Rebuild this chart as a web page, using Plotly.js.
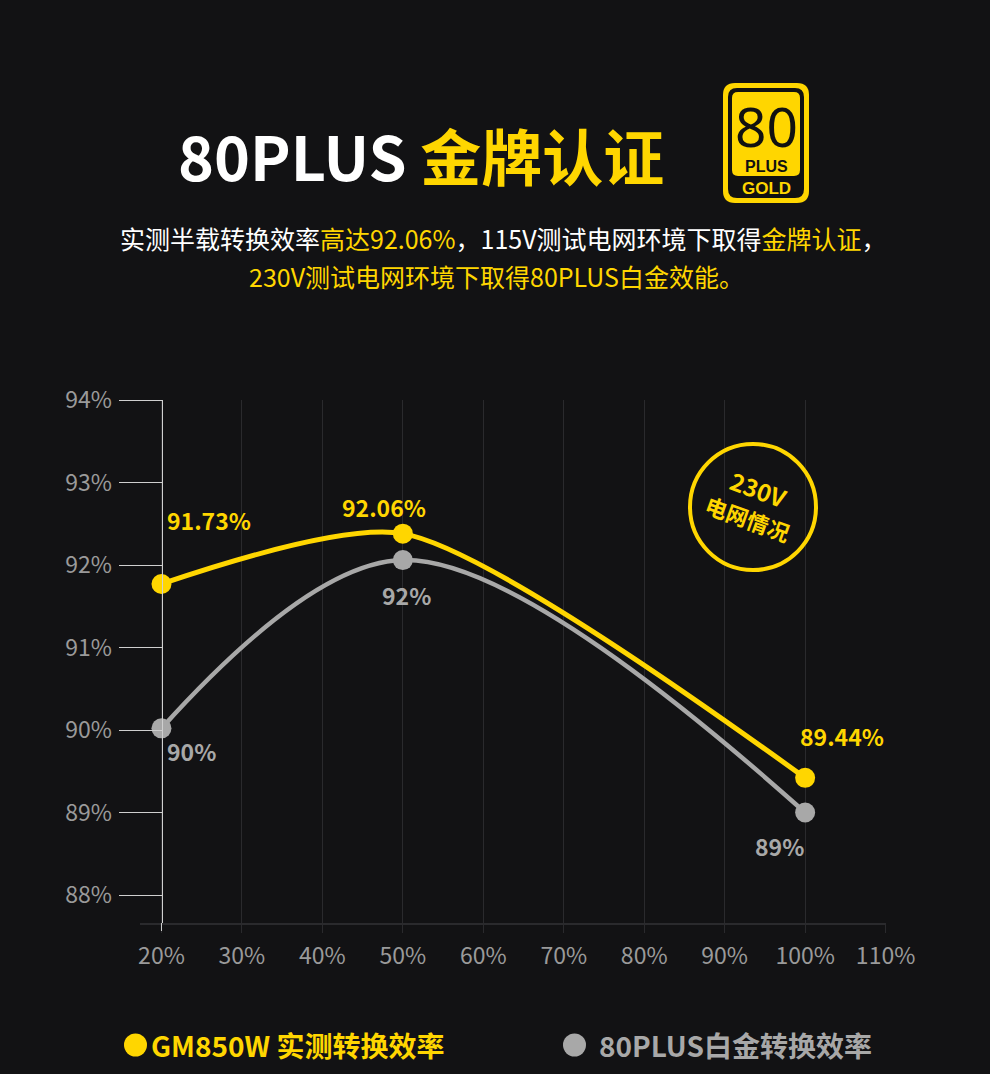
<!DOCTYPE html>
<html>
<head>
<meta charset="utf-8">
<script src="https://cdn.plot.ly/plotly-3.0.1.min.js"></script>
<style>
  html, body { margin: 0; padding: 0; background: #121214; }
  #chart { width: 990px; height: 1074px; }
</style>
</head>
<body>
<div id="chart"></div>
<script>
// ---------- data ----------
const loadLevels = [20, 50, 100];                 // % load
const gm850wEff = [91.77, 92.38, 89.42];          // drawn positions (GM850W measured)
const gm850wLabels = ['91.73%', '92.06%', '89.44%'];
const platinumEff = [90.02, 92.06, 89.0];         // 80PLUS platinum reference
const platinumLabels = ['90%', '92%', '89%'];
const xTickVals = [20, 30, 40, 50, 60, 70, 80, 90, 100, 110];
const xTickText = ['20%', '30%', '40%', '50%', '60%', '70%', '80%', '90%', '100%', '110%'];
const yTickVals = [88, 89, 90, 91, 92, 93, 94];
const yTickText = ['88%', '89%', '90%', '91%', '92%', '93%', '94%'];

// ---------- style ----------
const BG = '#121214';
const YELLOW = '#FFD600';
const GRAY = '#A8A8A8';
const FONT = '"Noto Sans CJK SC", "Noto Sans", sans-serif';

// plot area in pixels
const L = 140, R = 886, T = 400, B = 923, W = 990, H = 1074;
const px = X => (X - L) / (R - L);
const py = Y => (B - Y) / (B - T);

function rr(x0, y0, x1, y1, r) {
  const P = (x, y) => px(x).toFixed(5) + ',' + py(y).toFixed(5);
  return 'M' + P(x0 + r, y0) + ' L' + P(x1 - r, y0) + ' Q' + P(x1, y0) + ' ' + P(x1, y0 + r) +
    ' L' + P(x1, y1 - r) + ' Q' + P(x1, y1) + ' ' + P(x1 - r, y1) +
    ' L' + P(x0 + r, y1) + ' Q' + P(x0, y1) + ' ' + P(x0, y1 - r) +
    ' L' + P(x0, y0 + r) + ' Q' + P(x0, y0) + ' ' + P(x0 + r, y0) + ' Z';
}

const traces = [
  {
    x: loadLevels, y: platinumEff, type: 'scatter', mode: 'lines+markers',
    line: { color: GRAY, width: 4.5, shape: 'spline', smoothing: 1 },
    marker: { color: GRAY, size: 20 }, cliponaxis: false, hoverinfo: 'skip'
  },
  {
    x: loadLevels, y: gm850wEff, type: 'scatter', mode: 'lines+markers',
    line: { color: YELLOW, width: 5, shape: 'spline', smoothing: 0.7 },
    marker: { color: YELLOW, size: 20 }, cliponaxis: false, hoverinfo: 'skip'
  }
];

// label offsets (pixels) relative to each point
const yellowOffsets = [[48, 64], [-19, 27], [37, 42]];
const grayOffsets = [[30, -23], [4, -35], [-26, -33]];

const annotations = [];
loadLevels.forEach((lv, i) => {
  annotations.push({
    x: lv, y: gm850wEff[i], xref: 'x', yref: 'y', text: gm850wLabels[i], showarrow: false,
    xanchor: 'center', yanchor: 'middle',
    xshift: yellowOffsets[i][0], yshift: yellowOffsets[i][1],
    font: { family: FONT, size: 23, color: YELLOW, weight: 'bold' }
  });
  annotations.push({
    x: lv, y: platinumEff[i], xref: 'x', yref: 'y', text: platinumLabels[i], showarrow: false,
    xanchor: 'center', yanchor: 'middle',
    xshift: grayOffsets[i][0], yshift: grayOffsets[i][1],
    font: { family: FONT, size: 23, color: GRAY, weight: 'bold' }
  });
});

function pAnn(X, Y, text, font, extra) {
  return Object.assign({
    xref: 'paper', yref: 'paper', x: px(X), y: py(Y), showarrow: false,
    xanchor: 'center', yanchor: 'middle', text: text, font: font
  }, extra || {});
}

// Title
annotations.push(pAnn(421, 155, '80PLUS <span style="color:' + YELLOW + '">金牌认证</span>',
  { family: FONT, size: 61, color: '#FFFFFF', weight: 'bold' }));
// Subtitle
annotations.push(pAnn(503, 238,
  '实测半载转换效率<span style="color:' + YELLOW + '">高达92.06%</span>，115V测试电网环境下取得<span style="color:' + YELLOW + '">金牌认证</span>，',
  { family: FONT, size: 25, color: '#FFFFFF' }));
annotations.push(pAnn(496, 276, '230V测试电网环境下取得80PLUS白金效能。',
  { family: FONT, size: 25, color: YELLOW }));
// Badge texts
annotations.push(pAnn(766, 125, '80',
  { family: '"Liberation Sans Narrow", "Noto Sans", sans-serif', size: 55, color: '#111111' }));
annotations.push(pAnn(766, 166, 'PLUS',
  { family: '"Liberation Sans", sans-serif', size: 16, color: '#111111', weight: 'bold' }));
annotations.push(pAnn(766, 188, 'GOLD',
  { family: '"Liberation Sans", sans-serif', size: 17, color: YELLOW, weight: 'bold' }));
// 230V badge
annotations.push(pAnn(758, 488, '230V',
  { family: FONT, size: 24, color: YELLOW, weight: 'bold' }, { textangle: 20 }));
annotations.push(pAnn(748, 518, '电网情况',
  { family: FONT, size: 22, color: YELLOW, weight: 'bold' }, { textangle: 20 }));
// Legend
annotations.push(pAnn(149, 1045, 'GM850W 实测转换效率',
  { family: FONT, size: 28, color: YELLOW, weight: 'bold' }, { xanchor: 'left' }));
annotations.push(pAnn(597, 1045, '80PLUS白金转换效率',
  { family: FONT, size: 28, color: GRAY, weight: 'bold' }, { xanchor: 'left' }));

const shapes = [
  // short extension of the y axis line below the baseline
  { type: 'line', xref: 'x', yref: 'paper', x0: 20, x1: 20, y0: py(931), y1: 0,
    line: { color: '#D0D0D0', width: 1 }, layer: 'above' },
  // badge
  { type: 'path', xref: 'paper', yref: 'paper', path: rr(723, 83, 809, 203, 12), fillcolor: YELLOW, line: { width: 0 } },
  { type: 'path', xref: 'paper', yref: 'paper', path: rr(728, 88, 804, 198, 9), fillcolor: '#111111', line: { width: 0 } },
  { type: 'path', xref: 'paper', yref: 'paper', path: rr(732, 92, 800, 176, 6), fillcolor: YELLOW, line: { width: 0 } },
  // 230V circle
  { type: 'circle', xref: 'paper', yref: 'paper', x0: px(690), x1: px(816), y0: py(570), y1: py(444),
    line: { color: YELLOW, width: 4 }, fillcolor: 'rgba(0,0,0,0)' },
  // legend dots
  { type: 'circle', xref: 'paper', yref: 'paper', x0: px(124), x1: px(147), y0: py(1056.5), y1: py(1033.5),
    fillcolor: YELLOW, line: { width: 0 } },
  { type: 'circle', xref: 'paper', yref: 'paper', x0: px(563), x1: px(586), y0: py(1056.5), y1: py(1033.5),
    fillcolor: GRAY, line: { width: 0 } }
];

const layout = {
  width: W, height: H,
  margin: { l: L, r: W - R, t: T, b: H - B, pad: 0 },
  paper_bgcolor: BG, plot_bgcolor: BG,
  showlegend: false,
  font: { family: FONT },
  xaxis: {
    range: [17.33, 110.05], tickmode: 'array', tickvals: xTickVals, ticktext: xTickText,
    showgrid: true, gridcolor: '#2A2A2D', gridwidth: 1,
    ticks: 'outside', ticklen: 8, tickcolor: '#2A2A2D', tickwidth: 1,
    showline: true, linecolor: '#2A2A2D', linewidth: 1.5,
    zeroline: false, ticklabelstandoff: 4,
    tickfont: { family: FONT, size: 23, color: '#9A9A9A' }, fixedrange: true
  },
  yaxis: {
    range: [87.661, 94], tickmode: 'array', tickvals: yTickVals, ticktext: yTickText,
    anchor: 'free', position: (161.5 - L) / (R - L),
    showgrid: false, zeroline: false,
    showline: true, linecolor: '#D0D0D0', linewidth: 1,
    ticks: 'outside', ticklen: 43, tickcolor: '#CFCFCF', tickwidth: 1,
    ticklabelstandoff: 2,
    tickfont: { family: FONT, size: 23, color: '#9A9A9A' }, fixedrange: true
  },
  shapes: shapes,
  annotations: annotations
};

Plotly.newPlot('chart', traces, layout, { displayModeBar: false, staticPlot: true });
</script>
</body>
</html>
